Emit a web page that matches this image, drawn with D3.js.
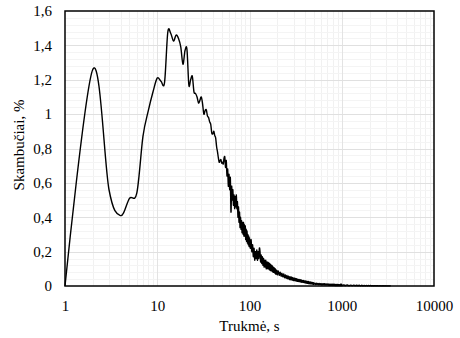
<!DOCTYPE html>
<html><head><meta charset="utf-8">
<script src="https://cdn.jsdelivr.net/npm/d3@7"></script>
<style>body{margin:0;background:#fff}svg{display:block}text{font-family:"Liberation Serif","Times New Roman",serif;fill:#000}</style>
</head><body><svg id="c" width="460" height="338"></svg>
<script>
// durations (s): every second up to 100, then coarser steps
const durA = d3.range(1, 101);
const valA = [0,1.26,0.56,0.41,0.51,0.54,0.87,1.02,1.13,1.21,
 1.19,1.185,1.475,1.47,1.425,1.46,1.44,1.39,1.29,1.37,
 1.375,1.17,1.2,1.22,1.13,1.12,1.1,1.065,1.08,1.1,
 1.06,1.0,1.02,1.025,0.99,0.98,0.955,0.94,0.89,0.885,
 0.9,0.875,0.86,0.81,0.78,0.745,0.72,0.73,0.735,0.715,
 0.72,0.71,0.745,0.75,0.69,0.73,0.64,0.68,0.58,0.65,
 0.56,0.63,0.43,0.58,0.5,0.56,0.47,0.53,0.45,0.52,
 0.46,0.53,0.45,0.49,0.4,0.46,0.37,0.43,0.34,0.4,
 0.33,0.38,0.31,0.37,0.3,0.37,0.29,0.36,0.29,0.35,
 0.27,0.33,0.26,0.32,0.25,0.3,0.24,0.29,0.23,0.28];
const durB = d3.range(102, 201, 2);
const valB = [0.22,0.27,0.2,0.24,0.17,0.22,0.15,0.2,0.16,0.21,
 0.15,0.2,0.16,0.22,0.2,0.14,0.18,0.13,0.17,0.12,
 0.16,0.11,0.15,0.11,0.15,0.1,0.14,0.1,0.14,0.1,
 0.135,0.095,0.13,0.09,0.125,0.09,0.12,0.085,0.115,0.08,
 0.11,0.08,0.105,0.075,0.1,0.07,0.095,0.07,0.09,0.065];
const durC = d3.range(205, 501, 5);
const valC = [0.088,0.062,0.08,0.057,0.074,0.053,0.07,0.048,0.064,0.044,
 0.062,0.042,0.057,0.038,0.054,0.036,0.052,0.034,0.049,0.032,
 0.047,0.031,0.044,0.029,0.042,0.027,0.04,0.026,0.038,0.025,
 0.037,0.023,0.035,0.022,0.033,0.021,0.032,0.02,0.03,0.018,
 0.029,0.017,0.028,0.016,0.027,0.015,0.026,0.014,0.024,0.013,
 0.023,0.013,0.022,0.012,0.021,0.011,0.02,0.01,0.019,0.01];
const durD = d3.range(510, 1001, 10);
const valD = [0.017,0.008,0.016,0.008,0.015,0.007,0.015,0.007,0.014,0.006,
 0.014,0.006,0.013,0.006,0.013,0.005,0.012,0.005,0.012,0.005,
 0.012,0.004,0.011,0.004,0.011,0.004,0.011,0.004,0.01,0.003,
 0.01,0.003,0.01,0.003,0.009,0.003,0.009,0.003,0.009,0.002,
 0.009,0.002,0.008,0.002,0.008,0.002,0.01,0.002,0.011,0.003];
const durE = d3.range(1050, 3401, 50);
const valE = [0.006,0.003,0.006,0.002,0.005,0.002,0.005,0.002,0.004,0.002,
 0.004,0.001,0.004,0.001,0.003,0.001,0.003,0.001,0.003,0.001,
 0.003,0.001,0.002,0.001,0.002,0.001,0.002,0.001,0.002,0.0005,
 0.002,0.0005,0.002,0.0005,0.0015,0.0005,0.0015,0.0005,0.0015,0.0005,
 0.001,0.0005,0.001,0.0005,0.001,0.0005,0.001,0.0005];
const xTicks = [1, 10, 100, 1000, 10000];
const yTicks = [0, 0.2, 0.4, 0.6, 0.8, 1, 1.2, 1.4, 1.6];
const xTitle = "Trukmė, s";
const yTitle = "Skambučiai, %";

const durations = [].concat(durA, durB, durC, durD, durE);
const values = [].concat(valA, valB, valC, valD, valE);
const data = durations.map((d, i) => [d, values[i]]);

const L = 65, R = 434, T = 11, B = 286;
const svg = d3.select("#c");
const x = d3.scaleLog().domain([1, 10000]).range([L, R]);
const y = d3.scaleLinear().domain([0, 1.6]).range([B, T]);
const loc = d3.formatLocale({decimal: ",", thousands: " ", grouping: [3], currency: ["", ""]});
const fy = loc.format("~g");

// grid
const g = svg.append("g");
const minorX = [];
for (let dec = 1; dec < 10000; dec *= 10) for (let k = 2; k <= 9; k++) minorX.push(dec * k);
g.selectAll(".mx").data(minorX).enter().append("line")
  .attr("x1", d => Math.round(x(d)) + 0.5).attr("x2", d => Math.round(x(d)) + 0.5)
  .attr("y1", T).attr("y2", B).attr("stroke", "#f1f1f1");
const minorY = d3.range(0.04, 1.6, 0.04).filter(v => Math.abs(v / 0.2 - Math.round(v / 0.2)) > 1e-6);
g.selectAll(".my").data(minorY).enter().append("line")
  .attr("y1", d => Math.round(y(d)) + 0.5).attr("y2", d => Math.round(y(d)) + 0.5)
  .attr("x1", L).attr("x2", R).attr("stroke", "#f4f4f4");
g.selectAll(".Mx").data(xTicks.slice(1, -1)).enter().append("line")
  .attr("x1", d => Math.round(x(d)) + 0.5).attr("x2", d => Math.round(x(d)) + 0.5)
  .attr("y1", T).attr("y2", B).attr("stroke", "#e3e3e3");
g.selectAll(".My").data(yTicks.slice(1, -1)).enter().append("line")
  .attr("y1", d => Math.round(y(d)) + 0.5).attr("y2", d => Math.round(y(d)) + 0.5)
  .attr("x1", L).attr("x2", R).attr("stroke", "#e0e0e0");

// line
const line = d3.line().x(d => x(d[0])).y(d => y(d[1])).curve(d3.curveCardinal.tension(0));
svg.append("path").datum(data).attr("d", line).attr("fill", "none")
  .attr("stroke", "#000").attr("stroke-width", 1.4).attr("stroke-linejoin", "round");

// frame
svg.append("rect").attr("x", L).attr("y", T).attr("width", R - L).attr("height", B - T)
  .attr("fill", "none").attr("stroke", "#000").attr("stroke-width", 1.5);

// axes
const ax = svg.append("g").attr("transform", `translate(0,${B})`)
  .call(d3.axisBottom(x).tickValues(xTicks).tickFormat(d3.format("d")).tickSize(0).tickPadding(14));
ax.select(".domain").remove();
ax.selectAll("text").style("font-size", "15px").style("font-family", "Liberation Serif");
const ay = svg.append("g").attr("transform", `translate(${L},0)`)
  .call(d3.axisLeft(y).tickValues(yTicks).tickFormat(fy).tickSize(0).tickPadding(13));
ay.select(".domain").remove();
ay.selectAll("text").style("font-size", "15px").style("font-family", "Liberation Serif");

svg.append("text").attr("x", (L + R) / 2).attr("y", 331).attr("text-anchor", "middle")
  .style("font-size", "15px").text(xTitle);
svg.append("text").attr("transform", `translate(24,145) rotate(-90)`)
  .attr("text-anchor", "middle").style("font-size", "15px").text(yTitle);
</script></body></html>
